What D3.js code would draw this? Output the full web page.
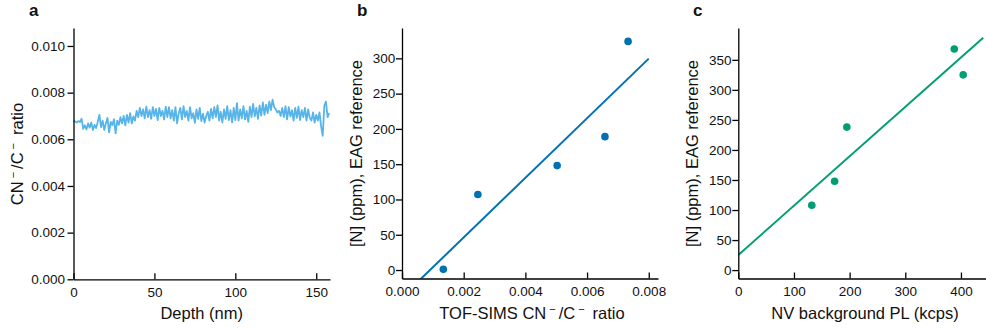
<!DOCTYPE html>
<html><head><meta charset="utf-8">
<script src="https://cdn.jsdelivr.net/npm/d3@7"></script>
<style>
body{margin:0;background:#fff}
svg text{font-family:"Liberation Sans",Arial,Helvetica,sans-serif;fill:#111}
</style>
</head><body>
<svg id="chart" width="986" height="329"></svg>
<script>
// ---------- data ----------
const depthNm = [
0,1,2,3,4,5,6,7,8,9,10,11,12,13,14,15,16,17,18,19,
20,21,22,23,24,25,26,27,28,29,30,31,32,33,34,35,36,37,38,39,
40,41,42,43,44,45,46,47,48,49,50,51,52,53,54,55,56,57,58,59,
60,61,62,63,64,65,66,67,68,69,70,71,72,73,74,75,76,77,78,79,
80,81,82,83,84,85,86,87,88,89,90,91,92,93,94,95,96,97,98,99,
100,101,102,103,104,105,106,107,108,109,110,111,112,113,114,115,116,117,118,119,
120,121,122,123,124,125,126,127,128,129,130,131,132,133,134,135,136,137,138,139,
140,141,142,143,144,145,146,147,148,149,150,151,152,153,154,155,156,157,158];
const cnRatio = [
0.00680,0.00676,0.00672,0.00678,0.00674,0.00688,0.00645,0.00660,0.00642,0.00668,
0.00650,0.00672,0.00640,0.00662,0.00648,0.00675,0.00705,0.00652,0.00680,0.00640,
0.00668,0.00692,0.00630,0.00675,0.00660,0.00686,0.00625,0.00680,0.00662,0.00695,
0.00668,0.00700,0.00660,0.00705,0.00672,0.00712,0.00668,0.00698,0.00680,0.00722,
0.00695,0.00735,0.00700,0.00728,0.00690,0.00740,0.00695,0.00725,0.00688,0.00738,
0.00700,0.00730,0.00682,0.00735,0.00700,0.00722,0.00685,0.00740,0.00695,0.00738,
0.00690,0.00725,0.00680,0.00738,0.00668,0.00710,0.00735,0.00685,0.00742,0.00695,
0.00722,0.00680,0.00738,0.00690,0.00712,0.00670,0.00728,0.00688,0.00735,0.00678,
0.00710,0.00672,0.00700,0.00718,0.00680,0.00730,0.00690,0.00738,0.00695,0.00745,
0.00680,0.00718,0.00672,0.00728,0.00688,0.00742,0.00682,0.00725,0.00672,0.00735,
0.00682,0.00755,0.00680,0.00728,0.00690,0.00742,0.00685,0.00722,0.00675,0.00740,
0.00695,0.00752,0.00698,0.00735,0.00688,0.00745,0.00702,0.00758,0.00705,0.00748,
0.00712,0.00762,0.00725,0.00770,0.00738,0.00728,0.00715,0.00722,0.00700,0.00735,
0.00695,0.00742,0.00685,0.00738,0.00698,0.00725,0.00680,0.00735,0.00692,0.00740,
0.00682,0.00725,0.00695,0.00735,0.00680,0.00728,0.00692,0.00680,0.00715,0.00672,
0.00705,0.00680,0.00715,0.00655,0.00615,0.00745,0.00762,0.00695,0.00712];

const tofRatio = [0.00134,0.00246,0.00503,0.00658,0.00733];
const eagB     = [1,107,148,189,324];
const nvPL     = [132,173,195,388,404];
const eagC     = [108,148,238,368,325];

const ticksAx = [0,50,100,150];
const ticksAy = [0,0.002,0.004,0.006,0.008,0.010];
const ticksBx = [0,0.002,0.004,0.006,0.008];
const ticksBy = [0,50,100,150,200,250,300];
const ticksCx = [0,100,200,300,400];
const ticksCy = [0,50,100,150,200,250,300,350];

const colA = "#56B4E9", colB = "#0072B2", colC = "#009E73";

// ---------- helpers ----------
const svg = d3.select("#chart");

function lsq(xs, ys){
  const mx = d3.mean(xs), my = d3.mean(ys);
  let sxy=0, sxx=0;
  xs.forEach((x,i)=>{sxy+=(x-mx)*(ys[i]-my); sxx+=(x-mx)*(x-mx);});
  const m = sxy/sxx; return {m, b: my - m*mx};
}

function axes(g, x, y, xt, yt, xfmt, yfmt, ypad){
  const x0 = x.range()[0], y0 = y.range()[0];
  const ax = g.append("g").attr("transform",`translate(0,${y0})`)
    .call(d3.axisBottom(x).tickValues(xt).tickFormat(xfmt)
      .tickSizeInner(-6).tickSizeOuter(0).tickPadding(8));
  const ay = g.append("g").attr("transform",`translate(${x0},0)`)
    .call(d3.axisLeft(y).tickValues(yt).tickFormat(yfmt)
      .tickSizeInner(6).tickSizeOuter(0).tickPadding(ypad));
  [ax,ay].forEach(a=>{
    a.selectAll("path,line").attr("stroke","#000").attr("stroke-width",1.3);
    a.selectAll("text").style("font-size","13.5px").attr("fill","#111");
  });
}

function richLabel(sel, parts){
  parts.forEach(p=>{
    const t = sel.append("tspan").text(p.t);
    if(p.sup){ t.style("font-size","11px").attr("dy",-6).attr("dx",p.dx||0); }
    else { t.attr("dy", p.down?6:0).attr("dx",p.dx||0); }
  });
}

function panelLetter(x, txt){
  svg.append("text").attr("x",x).attr("y",15.5).text(txt)
    .style("font-size","17px").style("font-weight","bold").attr("fill","#000");
}

function yLabel(cx, cy, build){
  const t = svg.append("text").attr("transform",`translate(${cx},${cy}) rotate(-90)`)
    .attr("text-anchor","middle").style("font-size","16.5px");
  build(t);
}
function xLabel(cx, build){
  const t = svg.append("text").attr("x",cx).attr("y",318.5)
    .attr("text-anchor","middle").style("font-size","16.5px");
  build(t);
}

const ratioParts = (pre)=>[
  {t: pre + "CN"},
  {t:"\u2212", sup:true, dx:3},
  {t:"/C", down:true, dx:3},
  {t:"\u2212", sup:true, dx:3},
  {t:"ratio", down:true, dx:8}
];

// ---------- panel a ----------
{
  const x = d3.scaleLinear().domain([0,158.5]).range([73.5,330]);
  const y = d3.scaleLinear().domain([0,0.01077]).range([279.3,28]);
  const g = svg.append("g");
  const line = d3.line().x((d,i)=>x(depthNm[i])).y(d=>y(d));
  g.append("path").datum(cnRatio).attr("d",line)
    .attr("fill","none").attr("stroke",colA).attr("stroke-width",1.8)
    .attr("stroke-linejoin","round");
  axes(g,x,y,ticksAx,ticksAy,d3.format("d"),d3.format(".3f"),2.5);
  panelLetter(29,"a");
  yLabel(22.5,154,t=>richLabel(t,ratioParts("")));
  xLabel(201.7,t=>t.text("Depth (nm)"));
}

// ---------- panel b ----------
{
  const x = d3.scaleLinear().domain([0,0.0083]).range([402,658]);
  const y = d3.scaleLinear().domain([-12,343]).range([278.5,28]);
  const g = svg.append("g");
  g.append("clipPath").attr("id","clipB").append("rect")
    .attr("x",402).attr("y",28).attr("width",256).attr("height",250.5);
  const f = lsq(tofRatio,eagB);
  const fx = [0,0.008];
  g.append("path").attr("clip-path","url(#clipB)")
    .attr("d",d3.line()(fx.map(v=>[x(v),y(f.m*v+f.b)])))
    .attr("fill","none").attr("stroke",colB).attr("stroke-width",2);
  g.selectAll("circle.b").data(tofRatio).join("circle")
    .attr("cx",d=>x(d)).attr("cy",(d,i)=>y(eagB[i])).attr("r",3.8).attr("fill",colB);
  axes(g,x,y,ticksBx,ticksBy,d3.format(".3f"),d3.format("d"),0.8);
  panelLetter(357,"b");
  yLabel(362,153.5,t=>t.text("[N] (ppm), EAG reference"));
  xLabel(532,t=>richLabel(t,ratioParts("TOF-SIMS ")));
}

// ---------- panel c ----------
{
  const x = d3.scaleLinear().domain([0,445]).range([738.3,986]);
  const y = d3.scaleLinear().domain([-14,403]).range([278.5,28]);
  const g = svg.append("g");
  g.append("clipPath").attr("id","clipC").append("rect")
    .attr("x",738.3).attr("y",28).attr("width",248).attr("height",250.5);
  const f = lsq(nvPL,eagC);
  const fx = [0,440];
  g.append("path").attr("clip-path","url(#clipC)")
    .attr("d",d3.line()(fx.map(v=>[x(v),y(f.m*v+f.b)])))
    .attr("fill","none").attr("stroke",colC).attr("stroke-width",2);
  g.selectAll("circle.c").data(nvPL).join("circle")
    .attr("cx",d=>x(d)).attr("cy",(d,i)=>y(eagC[i])).attr("r",3.8).attr("fill",colC);
  axes(g,x,y,ticksCx,ticksCy,d3.format("d"),d3.format("d"),0.8);
  panelLetter(693,"c");
  yLabel(697.5,153.5,t=>t.text("[N] (ppm), EAG reference"));
  xLabel(865,t=>t.text("NV background PL (kcps)"));
}
</script>
</body></html>
